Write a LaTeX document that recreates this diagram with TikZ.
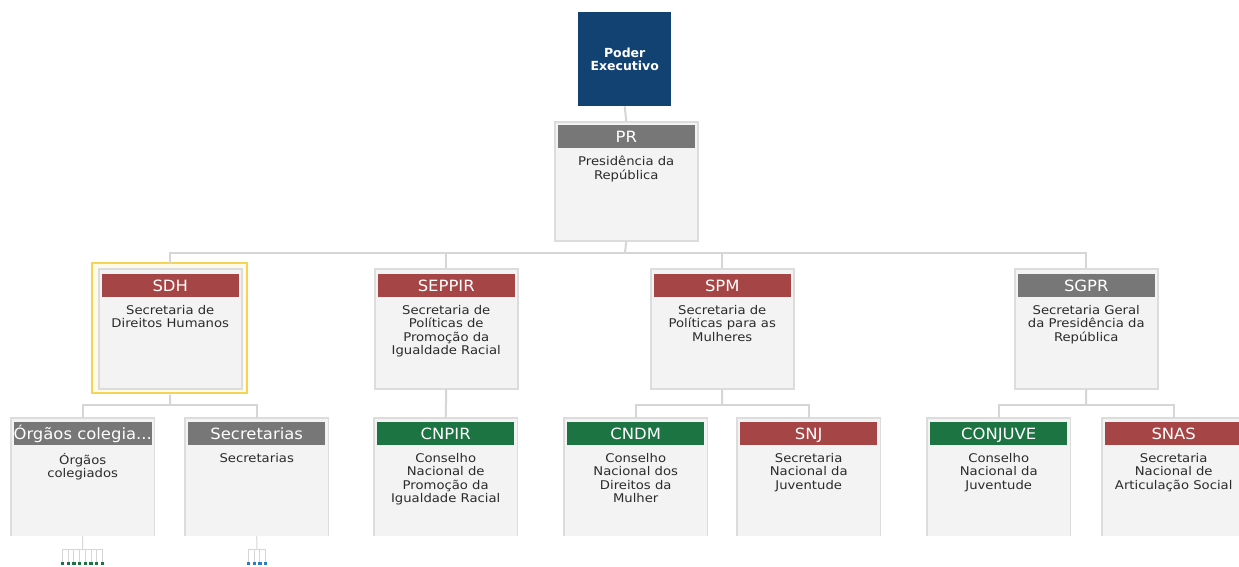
\documentclass[tikz,border=0pt]{standalone}
\usepackage{fontspec}
\setmainfont{DejaVu Sans}
\newfontfamily\descfont[FakeStretch=1.1]{DejaVu Sans}
\newfontfamily\hdrfont[FakeStretch=1.06]{DejaVu Sans}
\definecolor{navy}{HTML}{124272}
\definecolor{boxfill}{HTML}{F3F3F3}
\definecolor{boxline}{HTML}{DCDCDC}
\definecolor{connline}{HTML}{D6D6D6}
\definecolor{hdrgray}{HTML}{777777}
\definecolor{hdrred}{HTML}{A64545}
\definecolor{hdrgreen}{HTML}{1C7443}
\definecolor{desctext}{HTML}{2B2B2B}
\definecolor{hilite}{HTML}{F6D352}
\definecolor{hilitefill}{HTML}{FFFBEA}
\definecolor{dotblue}{HTML}{2D7EC0}
\tikzset{
  orgbox/.style={fill=boxfill, draw=boxline, line width=1.5pt, anchor=north west, inner sep=0pt,
    minimum width=143pt, minimum height=120pt},
  openbox/.style={fill=boxfill, anchor=north west, inner sep=0pt,
    minimum width=143pt, minimum height=118pt},
  hdr/.style={anchor=north, inner sep=0pt, minimum width=137pt, minimum height=22.5pt,
    text height=11.5pt, text depth=0pt,
    text=white, font=\hdrfont\fontsize{15.5}{15.5}\selectfont},
  desc/.style={anchor=north, align=center, text=desctext, inner sep=0pt,
    font=\descfont\fontsize{12}{13.5}\selectfont},
  conn/.style={draw=connline, line width=2pt},
  thinconn/.style={draw=connline, line width=1pt},
  dot/.style={minimum size=3.2pt, inner sep=0pt, anchor=north},
}
\begin{document}
\begin{tikzpicture}[x=1pt,y=-1pt]
\useasboundingbox[fill=white] (0,0) rectangle (1239,566);

\coordinate (bus1) at (625,253);

% ---------- top node ----------
\node[fill=navy, anchor=north west, minimum width=93pt, minimum height=94pt, inner sep=0pt,
  text=white, align=center, font=\bfseries\fontsize{12.5}{13.5}\selectfont] (PE) at (578,12) {Poder\\Executivo};

% ---------- PR ----------
\node[orgbox, minimum height=119pt] (PR) at (554,121) {};
\node[hdr, fill=hdrgray] (PRh) at ([yshift=-4pt]PR.north) {PR};
\node[desc] (PRd) at ([yshift=-8pt]PRh.south) {Presidência da\\República};

% ---------- level 2 highlight ----------
\draw[hilite, line width=1.8pt, fill=hilitefill] (92,263) rectangle (247,393);

% ---------- level 2 ----------
\node[orgbox] (SDH) at (98,268) {};
\node[hdr, fill=hdrred] (SDHh) at ([yshift=-6pt]SDH.north) {SDH};
\node[desc] (SDHd) at ([yshift=-8pt]SDHh.south) {Secretaria de\\Direitos Humanos};

\node[orgbox] (SEPPIR) at (374,268) {};
\node[hdr, fill=hdrred] (SEPPIRh) at ([yshift=-6pt]SEPPIR.north) {SEPPIR};
\node[desc] (SEPPIRd) at ([yshift=-8pt]SEPPIRh.south) {Secretaria de\\Políticas de\\Promoção da\\Igualdade Racial};

\node[orgbox] (SPM) at (650,268) {};
\node[hdr, fill=hdrred] (SPMh) at ([yshift=-6pt]SPM.north) {SPM};
\node[desc] (SPMd) at ([yshift=-8pt]SPMh.south) {Secretaria de\\Políticas para as\\Mulheres};

\node[orgbox] (SGPR) at (1014,268) {};
\node[hdr, fill=hdrgray] (SGPRh) at ([yshift=-6pt]SGPR.north) {SGPR};
\node[desc] (SGPRd) at ([yshift=-8pt]SGPRh.south) {Secretaria Geral\\da Presidência da\\República};

% ---------- level 3 (open bottom boxes) ----------
\foreach \n/\x in {ORG/11, SEC/185, CNPIR/374, CNDM/564, SNJ/737, CONJUVE/927, SNAS/1102}{
  \node[openbox] (\n) at (\x,418) {};
  \draw[boxline, line width=1.5pt] (\n.south west) |- (\n.north east) -- (\n.south east);
}
\node[hdr, fill=hdrgray] (ORGh) at ([yshift=-4pt]ORG.north) {Órgãos colegia...};
\node[desc] (ORGd) at ([yshift=-8pt]ORGh.south) {Órgãos\\colegiados};
\node[hdr, fill=hdrgray] (SECh) at ([yshift=-4pt]SEC.north) {Secretarias};
\node[desc] (SECd) at ([yshift=-8pt]SECh.south) {Secretarias};
\node[hdr, fill=hdrgreen] (CNPIRh) at ([yshift=-4pt]CNPIR.north) {CNPIR};
\node[desc] (CNPIRd) at ([yshift=-8pt]CNPIRh.south) {Conselho\\Nacional de\\Promoção da\\Igualdade Racial};
\node[hdr, fill=hdrgreen] (CNDMh) at ([yshift=-4pt]CNDM.north) {CNDM};
\node[desc] (CNDMd) at ([yshift=-8pt]CNDMh.south) {Conselho\\Nacional dos\\Direitos da\\Mulher};
\node[hdr, fill=hdrred] (SNJh) at ([yshift=-4pt]SNJ.north) {SNJ};
\node[desc] (SNJd) at ([yshift=-8pt]SNJh.south) {Secretaria\\Nacional da\\Juventude};
\node[hdr, fill=hdrgreen] (CONJUVEh) at ([yshift=-4pt]CONJUVE.north) {CONJUVE};
\node[desc] (CONJUVEd) at ([yshift=-8pt]CONJUVEh.south) {Conselho\\Nacional da\\Juventude};
\node[hdr, fill=hdrred] (SNASh) at ([yshift=-4pt]SNAS.north) {SNAS};
\node[desc] (SNASd) at ([yshift=-8pt]SNASh.south) {Secretaria\\Nacional de\\Articulação Social};

% ---------- connectors ----------
\draw[conn] (PE.south) -- (PR.north);
\draw[conn] (PR.south) -- (bus1);
\draw[conn] (bus1) -| ([yshift=5pt]SDH.north);
\draw[conn] (bus1) -| (SEPPIR.north);
\draw[conn] (bus1) -| (SPM.north);
\draw[conn] (bus1) -| (SGPR.north);

\coordinate (bus2) at (170,405);
\draw[conn] ([yshift=-5pt]SDH.south) -- (bus2);
\draw[conn] (bus2) -| (ORG.north);
\draw[conn] (bus2) -| (SEC.north);

\draw[conn] (SEPPIR.south) -- (CNPIR.north);

\coordinate (bus3) at (722,405);
\draw[conn] (SPM.south) -- (bus3);
\draw[conn] (bus3) -| (CNDM.north);
\draw[conn] (bus3) -| (SNJ.north);

\coordinate (bus4) at (1086,405);
\draw[conn] (SGPR.south) -- (bus4);
\draw[conn] (bus4) -| (CONJUVE.north);
\draw[conn] (bus4) -| (SNAS.north);

% ---------- collapsed child indicators ----------
\coordinate (tA) at (82.5,549);
\draw[thinconn] (ORG.south) -- (tA);
\foreach \i in {0,...,7}{
  \node[dot, fill=hdrgreen] (dA\i) at ({62.5+\i*5.7},561.5) {};
  \draw[thinconn] (tA) -| (dA\i.north);
}
\coordinate (tB) at (257,549);
\draw[thinconn] (SEC.south) -- (tB);
\foreach \i in {0,...,3}{
  \node[dot, fill=dotblue] (dB\i) at ({248.5+\i*5.7},561.5) {};
  \draw[thinconn] (tB) -| (dB\i.north);
}
\end{tikzpicture}
\end{document}
